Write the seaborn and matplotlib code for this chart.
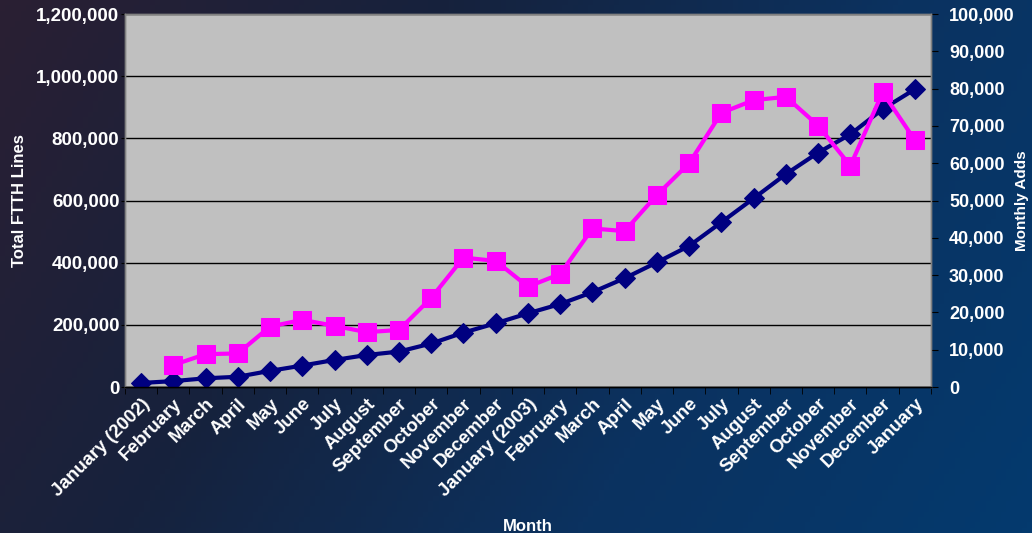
import numpy as np
import pandas as pd
import matplotlib
matplotlib.use("Agg")
import matplotlib.pyplot as plt
import seaborn as sns
from matplotlib.colors import LinearSegmentedColormap
from matplotlib.ticker import FuncFormatter, MultipleLocator

sns.set_style("white")
plt.rcParams['font.family'] = ['Liberation Sans', 'DejaVu Sans']

# Data
months = ["January (2002)", "February", "March", "April", "May", "June", "July",
          "August", "September", "October", "November", "December",
          "January (2003)", "February", "March", "April", "May", "June", "July",
          "August", "September", "October", "November", "December", "January"]
total_lines = [13000, 19000, 28000, 33000, 52000, 69000, 87000, 103000, 114000,
               140000, 175000, 205000, 237000, 267000, 305000, 350000, 401000,
               454000, 530000, 607000, 685000, 754000, 813000, 894000, 958000]
monthly_adds = [np.nan, 5900, 8800, 9000, 16200, 18000, 16400, 14700, 15300,
                23900, 34700, 33800, 26900, 30300, 42500, 41800, 51500,
                60000, 73500, 76900, 77800, 70100, 59300, 79000, 66200]

df = pd.DataFrame({"pos": np.arange(len(months)), "month": months,
                   "total": total_lines, "adds": monthly_adds})

fig = plt.figure(figsize=(10.32, 5.33), dpi=100)

# dark blue backdrop
bg = fig.add_axes([0, 0, 1, 1], zorder=-10)
cmap = LinearSegmentedColormap.from_list("bg", ["#2a1f33", "#16223d", "#0b3260", "#043a6e"])
gx, gy = np.meshgrid(np.linspace(0, 1, 200), np.linspace(0, 1, 100))
grad = 0.8 * gx + 0.25 * gy
bg.imshow(grad, cmap=cmap, aspect="auto", extent=[0, 1, 0, 1], origin="upper")
bg.set_axis_off()

ax = fig.add_axes([0.1211, 0.2739, 0.7810, 0.6998])
ax.set_facecolor("#c0c0c0")
ax2 = ax.twinx()

sns.lineplot(data=df, x="pos", y="total", ax=ax, color="#000080", lw=3,
             marker="D", markersize=10, markeredgecolor="#000080", zorder=3)
sns.lineplot(data=df.dropna(), x="pos", y="adds", ax=ax2, color="#ff00ff", lw=3,
             marker="s", markersize=13, markeredgecolor="#ff00ff", zorder=3)

ax.set_xlim(-0.5, len(months) - 0.5)
ax.set_ylim(0, 1200000)
ax2.set_ylim(0, 100000)

ax.yaxis.set_major_locator(MultipleLocator(200000))
ax2.yaxis.set_major_locator(MultipleLocator(10000))
fmt = FuncFormatter(lambda v, p: f"{int(v):,}")
ax.yaxis.set_major_formatter(fmt)
ax2.yaxis.set_major_formatter(fmt)

ax.grid(axis="y", color="black", lw=1)
ax.set_axisbelow(True)

ax.set_xticks(df["pos"])
ax.set_xticklabels(months, rotation=45, ha="right", rotation_mode="anchor")
ax.set_xticks(np.arange(-0.5, len(months)), minor=True)
ax.tick_params(axis="x", which="major", length=0, pad=6)
ax.tick_params(axis="x", which="minor", length=5, color="black", direction="out", bottom=True)
ax.tick_params(axis="y", left=True, length=3, pad=1, color="black")
ax2.tick_params(axis="y", right=True, length=5, pad=8, color="black")

for a in (ax, ax2):
    for t in a.get_xticklabels() + a.get_yticklabels():
        t.set_color("white")
        t.set_fontweight("bold")
        t.set_fontsize(13.5)
    for s in a.spines.values():
        s.set_color("#808080")
        s.set_linewidth(1)
for t in ax2.get_yticklabels():
    t.set_fontsize(13)
ax.spines["bottom"].set_color("black")
ax2.spines["bottom"].set_color("black")

ax.set_xlabel("Month", color="white", fontsize=12, fontweight="bold", labelpad=14)
ax.set_ylabel("Total FTTH Lines", color="white", fontsize=12, fontweight="bold", labelpad=7)
ax2.set_ylabel("Monthly Adds", color="white", fontsize=11, fontweight="bold", labelpad=0)

fig.savefig("out.png", dpi=100)
